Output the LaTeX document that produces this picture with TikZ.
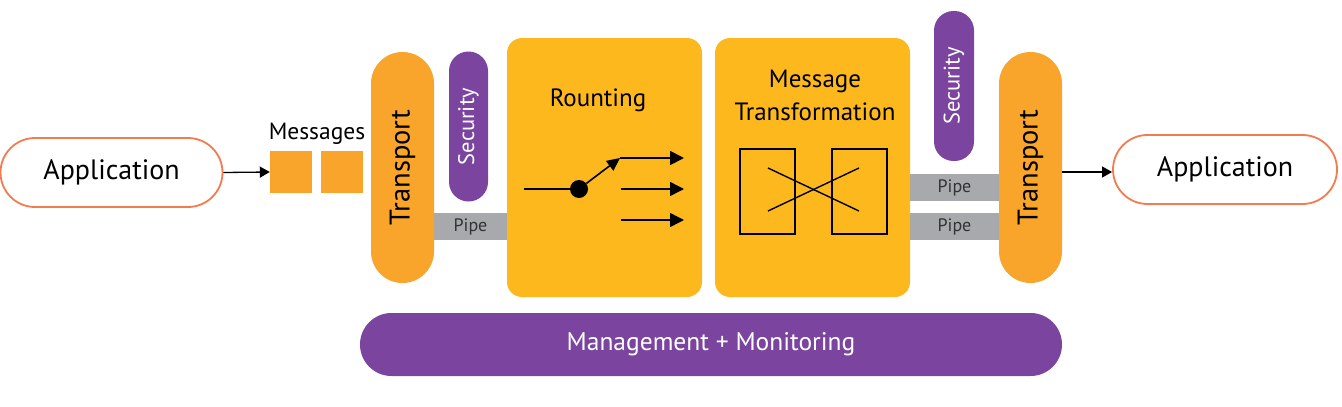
\documentclass[tikz,border=0pt]{standalone}
\usepackage{fontspec}
\setmainfont{PT Sans}
\usetikzlibrary{arrows.meta}
\definecolor{apporange}{HTML}{F37B4F}
\definecolor{transorange}{HTML}{F9A52B}
\definecolor{boxyellow}{HTML}{FDB81E}
\definecolor{purp}{HTML}{7A449F}
\definecolor{pipegray}{HTML}{A7A9AC}
\tikzset{
  pill/.style={rectangle, inner sep=0pt, rounded corners=#1},
  appbox/.style={pill=34.5pt, draw=apporange, line width=1.8pt, fill=white,
     minimum width=222pt, minimum height=69pt, font=\fontsize{28}{32}\selectfont},
  transbox/.style={pill=31.5pt, fill=transorange, minimum width=63pt, minimum height=231pt},
  transtext/.style={font=\fontsize{28.5}{32}\selectfont, rotate=90},
  secbox/.style={pill=19.5pt, fill=purp, minimum width=39pt, minimum height=150pt},
  sectext/.style={rotate=90, text=white, font=\fontsize{22.5}{26}\selectfont},
  pipebox/.style={rectangle, inner sep=0pt, fill=pipegray, minimum height=27pt,
     font=\fontsize{18}{21}\selectfont, text=black!80},
  bigbox/.style={rectangle, rounded corners=15pt, fill=boxyellow, minimum width=195pt, minimum height=259pt},
  msgsq/.style={rectangle, fill=transorange, minimum width=42pt, minimum height=42pt, inner sep=0pt},
  lbl/.style={font=\fontsize{23.5}{27}\selectfont, inner sep=0pt},
  arr/.style={line width=1.3pt, -{Triangle[length=10pt,width=11pt]}},
  rarr/.style={line width=1.8pt, -{Triangle[length=14pt,width=14pt]}},
  thin/.style={line width=1.4pt}
}
\begin{document}
\begin{tikzpicture}[x=1pt,y=-1pt]
\useasboundingbox (0,0) rectangle (1342,407);
% pipes (behind)
\node[pipebox, minimum width=75pt] (pipeL) at (470.5,226.5) {Pipe};
\node[pipebox, minimum width=91pt] (pipeR1) at (954.5,187.5) {Pipe};
\node[pipebox, minimum width=91pt] (pipeR2) at (954.5,226.5) {Pipe};
% applications
\node[appbox] (appL) at (111.5,172.5) {Application};
\node[appbox, minimum width=224pt] (appR) at (1225,169.5) {Application};
% messages
\node[msgsq] (m1) at (291,172) {};
\node[msgsq] (m2) at (342,172) {};
\node[lbl] (msgs) at (317,134) {Messages};
% transports
\node[transbox] (transL) at (402.5,167.5) {};
\node[transtext] (transLt) at (transL) {Transport};
\node[transbox] (transR) at (1030.5,167.5) {};
\node[transtext] (transRt) at (transR) {Transport};
% security
\node[secbox] (secL) at (468.5,126.5) {};
\node[sectext] (secLt) at (secL) {Security};
\node[secbox, minimum width=40pt] (secR) at (954,86) {};
\node[sectext] (secRt) at (secR) {Security};
% big boxes
\node[bigbox] (route) at (604.5,167.5) {};
\node[lbl, font=\fontsize{25}{29}\selectfont] (routet) at (598,100) {Rounting};
\node[bigbox] (mt) at (812.5,167.5) {};
\node[lbl, font=\fontsize{25}{29}\selectfont, align=center] (mtt) at (815,95) {Message\\[4pt]Transformation};
% management
\node[pill=31.5pt, fill=purp, text=white, minimum width=702pt, minimum height=63pt,
      font=\fontsize{25.5}{30}\selectfont] (mgmt) at (711,344.5) {Management + Monitoring};
% connectors
\draw[arr] (appL.east) -- (m1.west);
\draw[arr] (transR.east |- 0,172) -- (appR.west |- 0,172);
% routing switch
\coordinate (sIn) at (524,189);
\node[circle, fill=black, minimum size=18pt, inner sep=0pt] (dot) at (579,189) {};
\coordinate (sOut) at (620,158);
\coordinate (o1) at (684,158);
\coordinate (a2) at (621,189);
\coordinate (o2) at (684,189);
\coordinate (a3) at (621,220);
\coordinate (o3) at (684,220);
\draw[thin] (sIn) -- (dot);
\draw[line width=1.6pt, -{Triangle[length=13pt,width=12pt]}] (dot) -- (sOut);
\draw[rarr] (sOut) -- (o1);
\draw[rarr, line width=1.5pt] (a2) -- (o2);
\draw[rarr, line width=1.5pt] (a3) -- (o3);
% transformation
\node[draw, line width=1.4pt, minimum width=55pt, minimum height=85pt, inner sep=0pt] (r1) at (767.5,191.5) {};
\node[draw, line width=1.4pt, minimum width=55pt, minimum height=85pt, inner sep=0pt] (r2) at (859.5,191.5) {};
\coordinate (c1) at (768,168);
\coordinate (c2) at (859,211);
\coordinate (c3) at (768,211);
\coordinate (c4) at (859,168);
\draw[thin] (c1) -- (c2);
\draw[thin] (c3) -- (c4);
\end{tikzpicture}
\end{document}
